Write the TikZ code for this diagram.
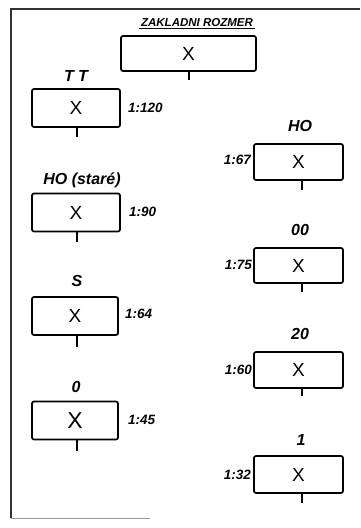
\documentclass[tikz,border=0pt]{standalone}
\usepackage{fontspec}
\setmainfont{Liberation Sans}
\begin{document}
\begin{tikzpicture}[x=1pt,y=-1pt,
  frame/.style={line width=1.8pt, draw=black!80},
  mbox/.style={draw, line width=1.7pt, rounded corners=2pt, inner sep=0pt, font=\fontsize{19}{19}\selectfont},
  smallbox/.style={mbox, minimum width=88pt, minimum height=38pt},
  rbox/.style={mbox, minimum width=89pt, minimum height=36pt},
  lab/.style={font=\bfseries\itshape\fontsize{16}{16}\selectfont, inner sep=0pt},
  sc/.style={font=\bfseries\itshape\fontsize{13.5}{13.5}\selectfont, inner sep=0pt},
  tick/.style={line width=1.5pt}]
\useasboundingbox (0,0) rectangle (360,528);
% frame
\draw[frame] (11,518) -- (11,9) -- (360,9);
\draw[line width=0.8pt, draw=black!40] (11,518) -- (150,518);
% main box
\node[mbox, minimum width=135pt, minimum height=35pt] (zr) at (188.5,53.5) {X};
\node[font=\bfseries\itshape\fontsize{11.5}{11.5}\selectfont, inner sep=1.5pt] (zrl) at (197,23) {ZAKLADNI ROZMER};
\draw[line width=0.8pt] (zrl.south west) -- (zrl.south east);
\coordinate (zrt) at (189,80);
\draw[tick] (zr.south -| zrt) -- (zrt);
% left column
\node[smallbox] (tt) at (76,108) {X};
\node[lab] (ttl) at (76,76) {T T};
\node[sc, anchor=west] (tts) at (128,108) {1:120};
\coordinate (ttt) at (77,137);
\draw[tick] (tt.south -| ttt) -- (ttt);

\node[smallbox] (hs) at (76,212.5) {X};
\node[lab] (hsl) at (82,180) {HO (staré)};
\node[sc, anchor=west] (hss) at (129,212) {1:90};
\coordinate (hst) at (77,242);
\draw[tick] (hs.south -| hst) -- (hst);

\node[smallbox, minimum width=86pt] (s) at (75,316) {X};
\node[lab] (sl) at (77,281) {S};
\node[sc, anchor=west] (ss) at (125,314) {1:64};
\coordinate (st) at (77,347);
\draw[tick] (s.south -| st) -- (st);

\node[smallbox, minimum width=86pt, font=\fontsize{23}{23}\selectfont] (o) at (75,420.5) {X};
\node[lab] (ol) at (76,387) {0};
\node[sc, anchor=west] (os) at (128,420) {1:45};
\coordinate (ot) at (77,451);
\draw[tick] (o.south -| ot) -- (ot);
% right column
\node[rbox] (ho) at (298.5,162) {X};
\node[lab] (hol) at (300,126) {HO};
\node[sc, anchor=east] (hos) at (251,160) {1:67};
\coordinate (hot) at (302,190);
\draw[tick] (ho.south -| hot) -- (hot);

\node[rbox, minimum height=35pt] (oo) at (298.5,265.5) {X};
\node[lab] (ool) at (300,230) {00};
\node[sc, anchor=east] (oos) at (252,265) {1:75};
\coordinate (oot) at (302,292);
\draw[tick] (oo.south -| oot) -- (oot);

\node[rbox] (tw) at (298.5,370) {X};
\node[lab] (twl) at (300,334) {20};
\node[sc, anchor=east] (tws) at (252,370) {1:60};
\coordinate (twt) at (302,396);
\draw[tick] (tw.south -| twt) -- (twt);

\node[rbox, minimum height=37pt] (on) at (298.5,474.5) {X};
\node[lab] (onl) at (301,440) {1};
\node[sc, anchor=east] (ons) at (251,475) {1:32};
\coordinate (ont) at (302,503);
\draw[tick] (on.south -| ont) -- (ont);
\end{tikzpicture}
\end{document}
